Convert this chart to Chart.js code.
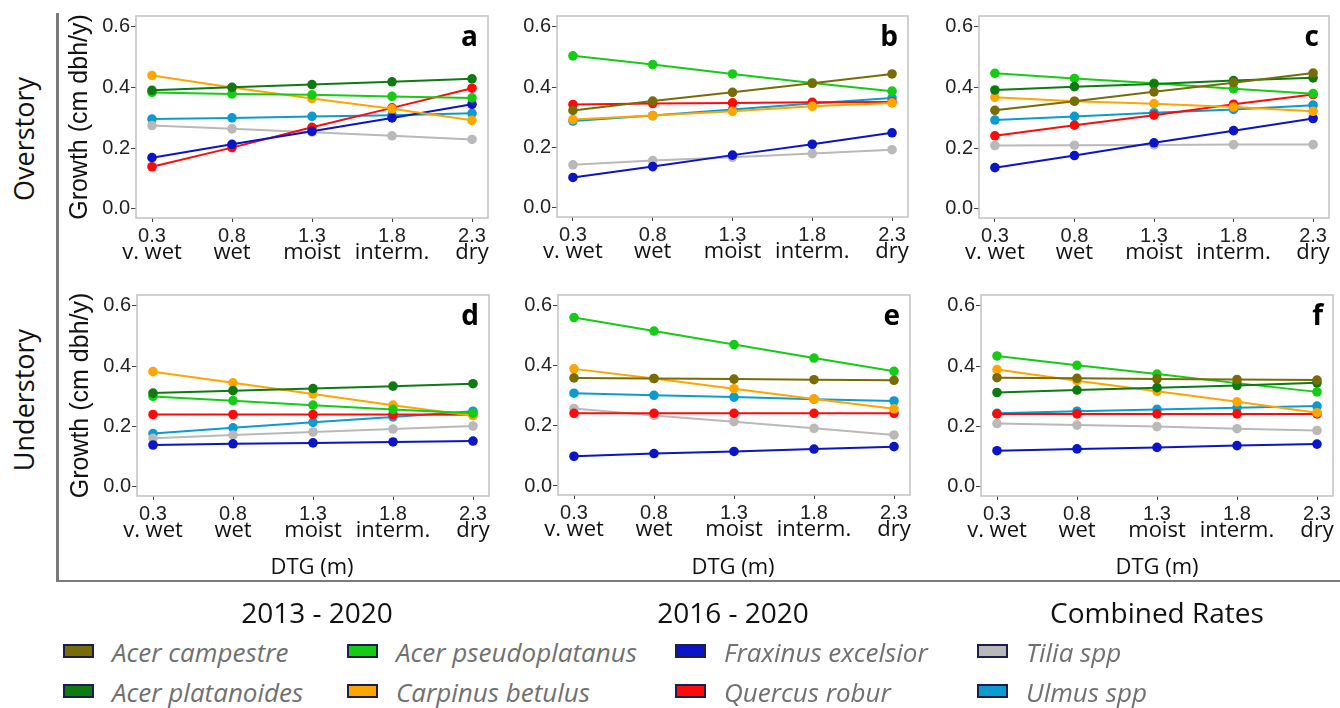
<!DOCTYPE html>
<html>
<head>
<meta charset="utf-8">
<script src="https://cdn.jsdelivr.net/npm/chart.js@4"></script>
<style>
  body { margin: 0; background: #fff; width: 1340px; height: 708px; position: relative; overflow: hidden; }
  canvas, .lbl, .line, .box { position: absolute; }
  .lbl { white-space: nowrap; transform: translate(-50%, -50%); color: #111; }
  .row { font: 27px "Open Sans", sans-serif; transform: translate(-50%, -50%) rotate(-90deg); }
  .dtg { font: 22px "Open Sans", sans-serif; }
  .grp { font: 28px "Open Sans", sans-serif; }
  .item { font: italic 26px "Open Sans", sans-serif; color: #707070; transform: translate(0, -50%); }
  .box { width: 27px; height: 10px; border: 2px solid #1b1f4e; }
  .line { background: #7a7a7a; }
</style>
</head>
<body>

<script>
// x positions (distance to groundwater, m) and moisture classes
const dtg = [0.3, 0.8, 1.3, 1.8, 2.3];
const moisture = ["v. wet", "wet", "moist", "interm.", "dry"];
const yTicks = [0.0, 0.2, 0.4, 0.6];

const species = ["Acer campestre", "Acer platanoides", "Acer pseudoplatanus", "Carpinus betulus",
                 "Fraxinus excelsior", "Quercus robur", "Tilia spp", "Ulmus spp"];
const colors = ["#776c06", "#0d7a12", "#14cc14", "#ffa500", "#0a14c8", "#ff0a0a", "#b9b9b9", "#0a9bd0"];

// growth (cm dbh/y), one row per species, null = species not shown
const panelA = [
  null,
  [0.391, 0.401, 0.410, 0.419, 0.429],
  [0.384, 0.379, 0.376, 0.371, 0.366],
  [0.440, 0.400, 0.364, 0.330, 0.292],
  [0.169, 0.213, 0.256, 0.300, 0.345],
  [0.139, 0.202, 0.269, 0.333, 0.398],
  [0.275, 0.264, 0.253, 0.241, 0.229],
  [0.296, 0.300, 0.305, 0.309, 0.315]
];
const panelB = [
  [0.323, 0.354, 0.383, 0.413, 0.444],
  null,
  [0.504, 0.475, 0.444, 0.414, 0.387],
  [0.293, 0.306, 0.320, 0.337, 0.348],
  [0.101, 0.137, 0.175, 0.211, 0.249],
  [0.343, 0.346, 0.348, 0.350, 0.351],
  [0.143, 0.157, 0.168, 0.180, 0.193],
  [0.288, 0.306, 0.326, 0.346, 0.364]
];
const panelC = [
  [0.325, 0.355, 0.386, 0.416, 0.448],
  [0.392, 0.403, 0.412, 0.423, 0.432],
  [0.447, 0.430, 0.414, 0.396, 0.380],
  [0.368, 0.355, 0.347, 0.336, 0.322],
  [0.136, 0.176, 0.218, 0.258, 0.298],
  [0.241, 0.276, 0.309, 0.345, 0.377],
  [0.209, 0.210, 0.211, 0.212, 0.212],
  [0.293, 0.305, 0.317, 0.328, 0.342]
];
const panelD = [
  null,
  [0.311, 0.319, 0.326, 0.334, 0.342],
  [0.300, 0.286, 0.271, 0.257, 0.244],
  [0.382, 0.345, 0.308, 0.271, 0.236],
  [0.139, 0.143, 0.146, 0.149, 0.152],
  [0.240, 0.240, 0.240, 0.240, 0.239],
  [0.161, 0.172, 0.182, 0.192, 0.202],
  [0.177, 0.196, 0.214, 0.232, 0.251]
];
const panelE = [
  [0.360, 0.358, 0.356, 0.354, 0.352],
  null,
  [0.561, 0.516, 0.471, 0.426, 0.382],
  [0.390, 0.358, 0.324, 0.290, 0.257],
  [0.099, 0.108, 0.115, 0.123, 0.131],
  [0.242, 0.242, 0.242, 0.242, 0.242],
  [0.258, 0.235, 0.214, 0.192, 0.170],
  [0.309, 0.302, 0.296, 0.289, 0.283]
];
const panelF = [
  [0.362, 0.360, 0.358, 0.356, 0.354],
  [0.313, 0.321, 0.329, 0.336, 0.345],
  [0.434, 0.403, 0.374, 0.344, 0.315],
  [0.389, 0.352, 0.317, 0.282, 0.246],
  [0.120, 0.126, 0.131, 0.137, 0.142],
  [0.242, 0.242, 0.242, 0.242, 0.242],
  [0.210, 0.205, 0.200, 0.193, 0.187],
  [0.244, 0.251, 0.257, 0.262, 0.268]
];

// frame, panel letter and moisture words under the numeric ticks
const panelDecor = {
  id: "panelDecor",
  beforeDatasetsDraw(chart) {
    const { ctx, chartArea: ca } = chart;
    ctx.save();
    ctx.strokeStyle = "#c2c2c2";
    ctx.lineWidth = 1.5;
    ctx.strokeRect(ca.left, ca.top, ca.right - ca.left, ca.bottom - ca.top);
    ctx.restore();
  },
  afterDraw(chart, args, opts) {
    const { ctx, chartArea: ca, scales } = chart;
    ctx.save();
    ctx.fillStyle = "#000";
    ctx.font = 'bold 28px "Open Sans", sans-serif';
    ctx.textAlign = "right";
    ctx.textBaseline = "alphabetic";
    ctx.fillText(opts.letter, ca.right - 10, ca.top + 30);
    ctx.font = '22px "Open Sans", sans-serif';
    ctx.fillStyle = "#111";
    ctx.textAlign = "center";
    ctx.textBaseline = "middle";
    dtg.forEach((v, i) => {
      ctx.fillText(moisture[i], scales.x.getPixelForValue(v), ca.bottom + 35);
    });
    ctx.restore();
  }
};

function drawPanel(rows, letter, box) {
  const padTop = 10, padRight = 5;
  const canvas = document.createElement("canvas");
  const w = box.yw + box.w + padRight;
  const h = padTop + box.h + box.xh;
  canvas.style.left = (box.left - box.yw) + "px";
  canvas.style.top = (box.top - padTop) + "px";
  canvas.style.width = w + "px";
  canvas.style.height = h + "px";
  canvas.width = w;
  canvas.height = h;
  document.body.appendChild(canvas);

  const datasets = [];
  rows.forEach((vals, k) => {
    if (!vals) return;
    datasets.push({
      label: species[k],
      data: vals.map((y, i) => ({ x: dtg[i], y: y })),
      borderColor: colors[k],
      backgroundColor: colors[k],
      borderWidth: 2,
      pointRadius: 4.8,
      pointBorderWidth: 0,
      tension: 0
    });
  });

  const tickFont = { family: '"Liberation Sans", Arial, sans-serif', size: 20 };

  new Chart(canvas, {
    type: "line",
    data: { datasets: datasets },
    options: {
      responsive: false,
      animation: false,
      layout: { padding: { top: padTop, right: padRight, left: 0, bottom: 0 } },
      plugins: {
        legend: { display: false },
        tooltip: { enabled: false },
        panelDecor: { letter: letter }
      },
      scales: {
        x: {
          type: "linear",
          min: 0.2,
          max: 2.4,
          afterBuildTicks: s => { s.ticks = dtg.map(v => ({ value: v })); },
          afterFit: s => { s.height = box.xh; },
          ticks: { font: tickFont, color: "#222", padding: 2, maxRotation: 0,
                   callback: v => v.toFixed(1) },
          grid: { drawOnChartArea: false, drawTicks: true, tickLength: 4, color: "#444" },
          border: { display: false }
        },
        y: {
          min: -0.03,
          max: 0.636,
          afterBuildTicks: s => { s.ticks = yTicks.map(v => ({ value: v })); },
          afterFit: s => { s.width = box.yw; },
          ticks: { font: tickFont, color: "#222", padding: 1,
                   callback: v => v.toFixed(1) },
          grid: { drawOnChartArea: false, drawTicks: true, tickLength: 5, color: "#444" },
          border: { display: false },
          title: {
            display: box.ytitle,
            text: "Growth (cm dbh/y)",
            font: { family: '"Liberation Sans", Arial, sans-serif', size: 25 },
            color: "#111",
            padding: { top: 9, bottom: 0 }
          }
        }
      }
    },
    plugins: [panelDecor]
  });
}

drawPanel(panelA, "a", { left: 136, top: 13, w: 352, h: 205, yw: 80, xh: 57, ytitle: true });
drawPanel(panelB, "b", { left: 557, top: 13, w: 351, h: 204, yw: 55, xh: 57, ytitle: false });
drawPanel(panelC, "c", { left: 979, top: 13, w: 350, h: 205, yw: 55, xh: 57, ytitle: false });
drawPanel(panelD, "d", { left: 137, top: 292, w: 352, h: 204, yw: 80, xh: 60, ytitle: true });
drawPanel(panelE, "e", { left: 558, top: 292, w: 352, h: 203, yw: 55, xh: 60, ytitle: false });
drawPanel(panelF, "f", { left: 981, top: 292, w: 352, h: 204, yw: 55, xh: 60, ytitle: false });

// surrounding text and frame lines
function addLabel(text, cls, x, y) {
  const d = document.createElement("div");
  d.className = "lbl " + cls;
  d.textContent = text;
  d.style.left = x + "px";
  d.style.top = y + "px";
  document.body.appendChild(d);
}
function addLine(x, y, w, h) {
  const d = document.createElement("div");
  d.className = "line";
  Object.assign(d.style, { left: x + "px", top: y + "px", width: w + "px", height: h + "px" });
  document.body.appendChild(d);
}

addLabel("Overstory", "row", 23, 139);
addLabel("Understory", "row", 23, 400);
addLabel("DTG (m)", "dtg", 312, 565);
addLabel("DTG (m)", "dtg", 733, 565);
addLabel("DTG (m)", "dtg", 1157, 565);
addLine(56, 13, 2.5, 569);
addLine(56, 579.5, 1284, 2.5);

const groupTitles = ["2013 - 2020", "2016 - 2020", "Combined Rates"];
const groupX = [317, 733, 1157];
groupTitles.forEach((t, i) => addLabel(t, "grp", groupX[i], 612));

// legend: 4 columns x 2 rows
const legendX = [63, 347, 675, 977];
const legendY = [651, 691];
species.forEach((name, k) => {
  const col = Math.floor(k / 2), row = k % 2;
  const b = document.createElement("div");
  b.className = "box";
  b.style.left = legendX[col] + "px";
  b.style.top = (legendY[row] - 7) + "px";
  b.style.background = colors[k];
  document.body.appendChild(b);
  const t = document.createElement("div");
  t.className = "lbl item";
  t.textContent = name;
  t.style.left = (legendX[col] + 49) + "px";
  t.style.top = (legendY[row] + 1) + "px";
  document.body.appendChild(t);
});
</script>
</body>
</html>
